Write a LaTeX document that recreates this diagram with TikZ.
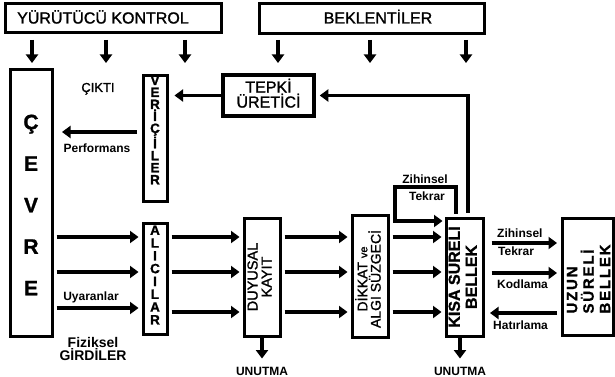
\documentclass[tikz,border=0pt]{standalone}
\usepackage{fontspec}
\setmainfont{Liberation Sans}
\newfontfamily\medfont{Liberation Sans}[FakeBold=1.3]
\newfontfamily\heavyfont{Liberation Sans Bold}[FakeBold=1.2]
\newfontfamily\spacedfont{Liberation Sans Bold}[LetterSpace=12,FakeBold=1.2]
\usetikzlibrary{arrows.meta,calc}

\begin{document}
\begin{tikzpicture}[x=1pt, y=-1pt,
    box/.style={draw, line width=3pt, inner sep=0pt},
    arrow/.style={line width=3.6pt, -{Triangle[length=8.5pt,width=12pt]}},
    gap/.style={shorten <=3pt, shorten >=3pt},
    lbl/.style={inner sep=0pt, anchor=base, font=\bfseries\fontsize{12}{12}\selectfont},
    boxtext/.style={inner sep=0pt, align=center, font=\medfont\fontsize{16}{15}\selectfont},
    stack/.style={inner sep=0pt, align=center, font=\heavyfont\fontsize{13.5}{12}\selectfont}]
  \useasboundingbox (0,0) rectangle (615,377);

  % top boxes
  \node[box, minimum width=216pt, minimum height=29pt] (yurutucu) at (113,18.5) {};
  \node[boxtext, anchor=base west] (yurututext) at ([xshift=13.5pt,yshift=-5pt]yurutucu.west) {YÜRÜTÜCÜ KONTROL};
  \node[box, minimum width=225pt, minimum height=30pt] (beklenti) at (371.5,19) {};
  \node[boxtext, anchor=base] (beklentext) at ([xshift=6.5pt,yshift=-4.5pt]beklenti.center) {BEKLENTİLER};
  \foreach \x in {32,106,185}
    \draw[arrow] ($(yurutucu.south -| \x,0)+(0,5.5)$) -- ++(0,23);
  \foreach \x in {278,370,466}
    \draw[arrow] ($(beklenti.south -| \x,0)+(0,4.5)$) -- ++(0,23);

  % environment
  \node[box, minimum width=42pt, minimum height=266pt] (cevre) at (31,203) {};
  \node[inner sep=0pt, align=center, font=\heavyfont\fontsize{21}{41.5}\selectfont] (cevretext) at ([yshift=-2pt]cevre.center) {Ç\\E\\V\\R\\E};

  % output side
  \node[box, minimum width=24pt, minimum height=125pt] (vericiler) at (155,138.5) {};
  \node[stack] (vericitext) at ([yshift=8.5pt]vericiler.center) {V\\E\\R\\İ\\Ç\\İ\\L\\E\\R};
  \node[box, line width=3.5pt, minimum width=91pt, minimum height=41pt] (tepki) at (268.5,95.5) {};
  \node[boxtext] (tepkitext) at ([yshift=2.3pt]tepki.center) {TEPKİ\\ÜRETİCİ};
  \node[inner sep=0pt, anchor=base, font=\medfont\fontsize{13}{13}\selectfont] (cikti) at (98,92) {ÇIKTI};
  \coordinate (perfend) at (62,132);
  \draw[arrow, shorten <=4.5pt] (vericiler.west |- perfend) -- (perfend);
  \node[lbl] (performans) at (97,152) {Performans};
  \draw[arrow, shorten >=6pt] (tepki.west) -- (vericiler.east |- tepki.west);

  % input side
  \node[box, minimum width=24pt, minimum height=111pt] (alicilar) at (155,278.5) {};
  \node[stack, font=\heavyfont\fontsize{13.5}{12.8}\selectfont] (alicitext) at ([yshift=3.5pt]alicilar.center) {A\\L\\I\\C\\I\\L\\A\\R};
  \foreach \y in {237,272,308}
    \draw[arrow, gap] (cevre.east |- 0,\y) -- (alicilar.west |- 0,\y);
  \node[lbl] (uyaranlar) at (91,300) {Uyaranlar};
  \node[inner sep=0pt, align=center, font=\bfseries\fontsize{14}{13}\selectfont] (girdiler) at (93,348.5) {Fiziksel\\GİRDİLER};

  % memory stages
  \node[box, minimum width=36pt, minimum height=118pt] (duyusal) at (262,277) {};
  \node[boxtext, rotate=90, font=\medfont\fontsize{14.5}{14}\selectfont] (duyusaltext) at ([xshift=-2.5pt]duyusal.center) {DUYUSAL\\KAYIT};
  \node[box, minimum width=36pt, minimum height=122pt] (dikkat) at (370,276) {};
  \node[boxtext, rotate=90, font=\medfont\fontsize{14}{11}\selectfont] (dikkattext) at ([xshift=-2pt,yshift=-3pt]dikkat.center) {DİKKAT {\fontsize{11}{11}\selectfont ve}\\ALGI SÜZGECİ};
  \node[box, minimum width=37pt, minimum height=118pt] (kisa) at (464.5,277) {};
  \node[boxtext, rotate=90, font=\heavyfont\fontsize{16}{17}\selectfont] (kisatext) at ([xshift=-3pt]kisa.center) {KISA SÜRELİ\\BELLEK};
  \node[box, minimum width=51pt, minimum height=117pt] (uzun) at (587.5,276.5) {};
  \node[boxtext, rotate=90, align=left, font=\spacedfont\fontsize{15}{16.5}\selectfont] (uzuntext) at ([xshift=1pt,yshift=-2.5pt]uzun.center) {UZUN\\SÜRELİ\\BELLEK};
  \foreach \y in {237,272,312} {
    \draw[arrow, gap] (alicilar.east |- 0,\y) -- (duyusal.west |- 0,\y);
    \draw[arrow, gap] (duyusal.east |- 0,\y) -- (dikkat.west |- 0,\y);
    \draw[arrow, gap] (dikkat.east |- 0,\y) -- (kisa.west |- 0,\y);
  }
  \draw[arrow, shorten <=4pt, shorten >=4pt] ([xshift=3.5pt]kisa.north) |- (tepki.east);

  % rehearsal loop
  \coordinate (loopcorner) at (395,187);
  \draw[arrow, shorten <=3pt, shorten >=2pt] ([xshift=-8.5pt]kisa.north) |- (loopcorner) |- ([yshift=-4.5pt]kisa.north west);
  \node[lbl] (zihinsel1) at (425,183) {Zihinsel};
  \node[lbl] (tekrar1) at (427,200) {Tekrar};

  % long-term memory links
  \draw[arrow, shorten <=7pt, shorten >=3.5pt] (kisa.east |- 0,243) -- (uzun.west |- 0,243);
  \draw[arrow, shorten <=7pt, shorten >=3.5pt] (kisa.east |- 0,273) -- (uzun.west |- 0,273);
  \draw[arrow, shorten <=3.5pt, shorten >=5.5pt] (uzun.west |- 0,313) -- (kisa.east |- 0,313);
  \node[lbl, anchor=base west] (zihinsel2) at (497,237) {Zihinsel};
  \node[lbl, anchor=base west] (tekrar2) at (498,255) {Tekrar};
  \node[lbl, anchor=base west] (kodlama) at (497,288) {Kodlama};
  \node[lbl, anchor=base west] (hatirlama) at (493,329) {Hatırlama};

  % forgetting
  \node[lbl] (unutma1) at (262,375) {UNUTMA};
  \node[lbl] (unutma2) at (460,375) {UNUTMA};
  \draw[arrow, shorten >=8pt] (duyusal.south) -- (unutma1.north);
  \draw[arrow, shorten >=8pt] (kisa.south -| unutma2) -- (unutma2.north);
\end{tikzpicture}
\end{document}
